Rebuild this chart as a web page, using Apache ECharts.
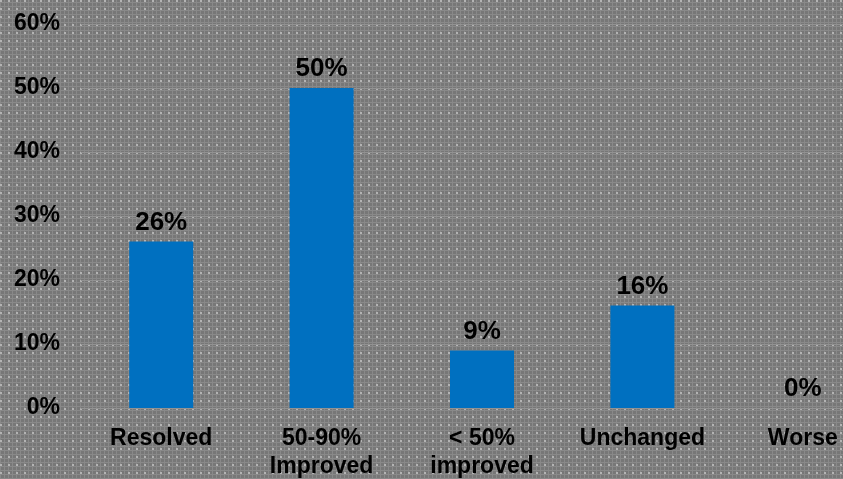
<!DOCTYPE html>
<html><head><meta charset="utf-8">
<script src="https://cdn.jsdelivr.net/npm/echarts@6/dist/echarts.min.js"></script>
<style>
html,body{margin:0;padding:0;width:843px;height:479px;overflow:hidden;}
body{
  background-color:#777777;
  background-image:
    radial-gradient(circle at 1px 1px, #b4b4b4 0.8px, transparent 1.2px),
    repeating-linear-gradient(0deg, #898989 0px, #898989 1px, transparent 1px, transparent 4px),
    repeating-linear-gradient(90deg, #898989 0px, #898989 1px, transparent 1px, transparent 4px);
  background-size: 8px 8px, auto, auto;
}
#c{width:843px;height:479px;}
</style></head>
<body><div id="c"></div>
<script>
const categories = ['Resolved', '50-90%\nImproved', '< 50%\nimproved', 'Unchanged', 'Worse'];
const values = [26, 50, 9, 16, 0];
const yTicks = [0, 10, 20, 30, 40, 50, 60];

const chart = echarts.init(document.getElementById('c'), null, {renderer:'canvas'});
chart.setOption({
  backgroundColor: 'transparent',
  animation: false,
  grid: {left: 81, width: 802, top: 24, bottom: 71, containLabel: false, outerBoundsMode: 'none'},
  xAxis: {
    type: 'category', data: categories,
    axisLine: {show: true, lineStyle: {color: '#929292', width: 1}},
    axisTick: {show: false},
    axisLabel: {color: '#000', fontFamily: 'Liberation Sans, Arial, sans-serif', fontWeight: 'bold', fontSize: 23, lineHeight: 28, margin: 17, interval: 0}
  },
  yAxis: {
    type: 'value', min: 0, max: 60, interval: 10,
    axisLine: {show: false}, axisTick: {show: false},
    splitLine: {show: true, lineStyle: {color: '#929292', width: 1}},
    axisLabel: {color: '#000', fontFamily: 'Liberation Sans, Arial, sans-serif', fontWeight: 'bold', fontSize: 23, margin: 21, padding: [3, 0, 0, 0], formatter: v => yTicks.includes(v) ? v + '%' : ''}
  },
  series: [{
    type: 'bar', data: values, barWidth: 64,
    itemStyle: {color: '#0070C0'},
    label: {show: true, position: 'top', distance: 6, color: '#000', fontFamily: 'Liberation Sans, Arial, sans-serif', fontWeight: 'bold', fontSize: 26, formatter: p => p.value + '%'}
  }]
});
</script></body></html>
